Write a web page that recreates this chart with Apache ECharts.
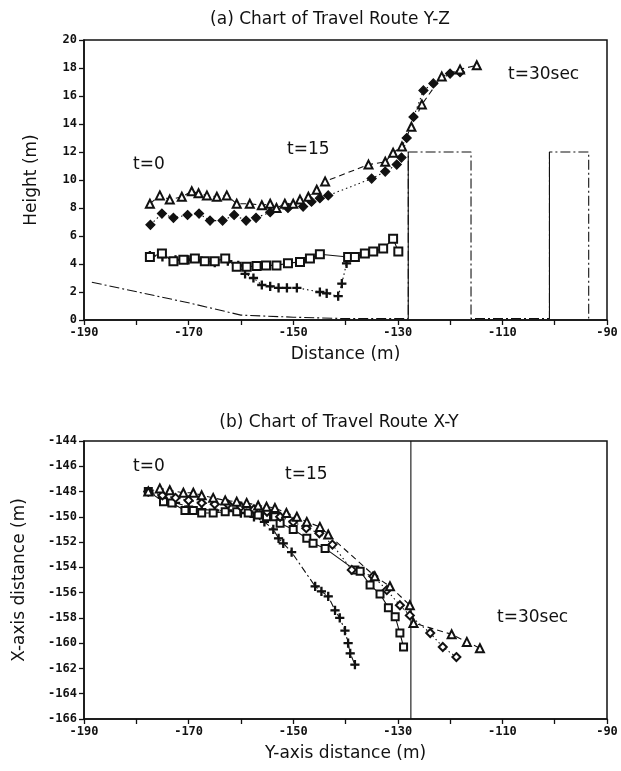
<!DOCTYPE html>
<html><head><meta charset="utf-8">
<script src="https://cdn.jsdelivr.net/npm/echarts@6/dist/echarts.min.js"></script>
<style>html,body{margin:0;padding:0;background:#fff}#c{width:621px;height:771px}</style>
</head><body><div id="c"></div>
<script>
// ---------- (a) Y-Z : [Y-axis distance, height] ----------
const triYZ = [[-177.4,8.3],[-175.5,8.9],[-173.6,8.6],[-171.3,8.8],[-169.4,9.2],[-168.1,9.05],[-166.5,8.9],[-164.6,8.8],[-162.7,8.9],[-160.8,8.3],[-158.3,8.3],[-156,8.2],[-154.4,8.3],[-153.2,8.0],[-151.6,8.3],[-150,8.3],[-148.7,8.6],[-147.1,8.8],[-145.5,9.3],[-143.9,9.9],[-135.6,11.1],[-132.4,11.3],[-130.9,11.95],[-129.2,12.4],[-127.4,13.8],[-125.4,15.4],[-121.6,17.4],[-118.1,17.9],[-114.9,18.2]];
const diaYZ = [[-177.3,6.8],[-175.1,7.6],[-172.9,7.3],[-170.2,7.5],[-168,7.6],[-165.9,7.1],[-163.5,7.1],[-161.3,7.5],[-159,7.1],[-157.1,7.3],[-154.4,7.7],[-151,8.0],[-148.1,8.1],[-146.5,8.45],[-144.9,8.7],[-143.3,8.9],[-135,10.1],[-132.4,10.6],[-130.2,11.1],[-129.3,11.6],[-128.3,13.0],[-127,14.5],[-125.1,16.4],[-123.2,16.9],[-120,17.6],[-118.1,17.7]];
const sqYZ = [[-177.4,4.5],[-175.1,4.75],[-172.9,4.2],[-171,4.3],[-168.8,4.4],[-166.9,4.2],[-165,4.2],[-163,4.4],[-160.8,3.8],[-158.9,3.8],[-157,3.85],[-155.2,3.9],[-153.2,3.9],[-151,4.05],[-148.7,4.15],[-146.8,4.4],[-144.9,4.7],[-139.5,4.5],[-138.2,4.5],[-136.3,4.75],[-134.7,4.9],[-132.8,5.1],[-130.9,5.8],[-129.9,4.9]];
const plusYZ = [[-177.4,4.6],[-175,4.5],[-172.5,4.3],[-170,4.3],[-167.5,4.2],[-165,4.1],[-162.5,4.2],[-160.5,3.9],[-159.2,3.3],[-157.6,3.0],[-156,2.5],[-154.4,2.4],[-152.8,2.3],[-151.2,2.3],[-149.3,2.3],[-144.9,2.0],[-143.6,1.9],[-141.4,1.7],[-140.7,2.6],[-139.8,4.05],[-139.5,4.5]];
const groundYZ = [[-188.5,2.7],[-169.7,1.2],[-160,0.35],[-150,0.2],[-140,0.1],[-128,0.1],[-128,12],[-116,12],[-116,0.1],[-101,0.1],[-101,12],[-93.5,12],[-93.5,0.1]];
const wallsYZ = [[-128,0.1],[-128,12],'-',[-101,0.1],[-101,12]];

// ---------- (b) X-Y : [Y-axis distance, X-axis distance] ----------
const triXY = [[-177.7,-148.0],[-175.5,-147.75],[-173.6,-147.9],[-171,-148.1],[-169.1,-148.1],[-167.5,-148.3],[-165.3,-148.5],[-163,-148.7],[-160.8,-148.8],[-158.9,-148.9],[-156.7,-149.1],[-155.1,-149.2],[-153.5,-149.3],[-151.3,-149.7],[-149.3,-150],[-147.4,-150.4],[-144.9,-150.8],[-143.3,-151.4],[-134.4,-154.7],[-131.5,-155.5],[-127.7,-157],[-127,-158.4],[-119.7,-159.3],[-116.8,-159.9],[-114.3,-160.4]];
const diaXY = [[-177.7,-148.0],[-175,-148.3],[-172.5,-148.5],[-170,-148.7],[-167.5,-148.9],[-165,-149.0],[-162.5,-149.0],[-160,-149.2],[-157.5,-149.4],[-155,-149.6],[-152.5,-150.0],[-150,-150.4],[-147.5,-150.9],[-145,-151.3],[-142.5,-152.2],[-138.8,-154.2],[-134.7,-154.7],[-132.1,-155.8],[-129.6,-157],[-127.7,-157.8],[-123.8,-159.2],[-121.4,-160.3],[-118.8,-161.1]];
const sqXY = [[-177.7,-148.0],[-174.8,-148.8],[-173.2,-148.9],[-170.7,-149.5],[-169.1,-149.5],[-167.5,-149.7],[-165.3,-149.7],[-163,-149.6],[-160.8,-149.6],[-158.6,-149.7],[-156.7,-149.85],[-155.1,-150.0],[-153.5,-150.0],[-152.5,-150.5],[-150,-151],[-147.4,-151.7],[-146.2,-152.1],[-143.9,-152.5],[-138.2,-154.2],[-137.2,-154.3],[-135.3,-155.4],[-133.4,-156.1],[-131.8,-157.2],[-130.5,-157.9],[-129.6,-159.2],[-128.9,-160.3]];
const plusXY = [[-177.7,-148.0],[-175,-148.5],[-172.5,-148.9],[-170,-149.2],[-167.5,-149.4],[-165,-149.5],[-162.5,-149.5],[-160,-149.7],[-157.5,-150.0],[-155.5,-150.4],[-153.8,-151.0],[-152.8,-151.7],[-151.9,-152.1],[-150.3,-152.8],[-145.8,-155.5],[-144.6,-155.9],[-143.3,-156.3],[-142,-157.4],[-141.1,-158],[-140.1,-159],[-139.5,-160],[-139.1,-160.8],[-138.2,-161.7]];
const wallXY = [[-127.5,-144],[-127.5,-166]];

const titles = ['(a) Chart of Travel Route Y-Z', '(b) Chart of Travel Route X-Y'];
const axisNames = { a: ['Distance (m)', 'Height (m)'], b: ['Y-axis distance (m)', 'X-axis distance (m)'] };
const notes = { a: ['t=0', 't=15', 't=30sec'], b: ['t=0', 't=15', 't=30sec'] };

const PLUS = 'path://M4.3,0H5.7V4.3H10V5.7H5.7V10H4.3V5.7H0V4.3H4.3Z';
const tickFont = { fontFamily: 'DejaVu Sans Mono', fontWeight: 'bold', fontSize: 12, color: '#111' };
const nameFont = { fontFamily: 'DejaVu Sans', fontSize: 17, color: '#111' };
const blk = '#111';

function xAx(gi, name) {
  return { gridIndex: gi, type: 'value', min: -190, max: -90, interval: 10,
    name: name, nameLocation: 'middle', nameGap: 26, nameTextStyle: nameFont,
    axisLine: { show: true, onZero: false, lineStyle: { color: blk, width: 1.5 } },
    axisTick: { show: true, length: 5, lineStyle: { color: blk, width: 1.3 } },
    axisLabel: Object.assign({ margin: 7, formatter: v => ((v + 190) % 20 === 0 ? String(v) : '') }, tickFont),
    splitLine: { show: false } };
}
function yAx(gi, name, mn, mx, gap) {
  return { gridIndex: gi, type: 'value', min: mn, max: mx, interval: 2,
    name: name, nameLocation: 'middle', nameGap: gap, nameTextStyle: nameFont,
    axisLine: { show: true, onZero: false, lineStyle: { color: blk, width: 1.5 } },
    axisTick: { show: true, length: 5, lineStyle: { color: blk, width: 1.3 } },
    axisLabel: Object.assign({ margin: 7 }, tickFont),
    splitLine: { show: false } };
}
function ser(gi, data, symbol, size, lineType) {
  return { type: 'line', xAxisIndex: gi, yAxisIndex: gi, data: data, symbol: symbol, symbolSize: size,
    showSymbol: true, showAllSymbol: true, animation: false, connectNulls: false,
    lineStyle: { color: blk, width: 1.1, type: lineType },
    itemStyle: { color: blk, borderColor: blk, borderWidth: 1.2 } };
}

const chart = echarts.init(document.getElementById('c'), null, { renderer: 'canvas' });
chart.setOption({
  backgroundColor: '#fff',
  animation: false,
  title: [
    { text: titles[0], left: 325, top: 6, textAlign: 'center', textStyle: { fontFamily: 'DejaVu Sans', fontSize: 17, fontWeight: 'normal', color: blk } },
    { text: titles[1], left: 334, top: 409, textAlign: 'center', textStyle: { fontFamily: 'DejaVu Sans', fontSize: 17, fontWeight: 'normal', color: blk } }
  ],
  grid: [
    { left: 84, right: 14, top: 40, height: 280, show: true, borderColor: blk, borderWidth: 1.5 },
    { left: 84, right: 14, top: 441, height: 278, show: true, borderColor: blk, borderWidth: 1.5 }
  ],
  xAxis: [xAx(0, axisNames.a[0]), xAx(1, axisNames.b[0])],
  yAxis: [yAx(0, axisNames.a[1], 0, 20, 44), yAx(1, axisNames.b[1], -166, -144, 56)],
  series: [
    ser(0, groundYZ, 'none', 0, [10, 3, 2, 3]),
    ser(0, wallsYZ, 'none', 0, 'solid'),
    ser(0, plusYZ, PLUS, 8, [1.5, 3]),
    ser(0, sqYZ, 'emptyRect', 8, 'solid'),
    ser(0, diaYZ, 'diamond', 9, [1.5, 3]),
    ser(0, triYZ, 'emptyTriangle', 8, [6, 4]),
    ser(1, wallXY, 'none', 0, 'solid'),
    ser(1, plusXY, PLUS, 8, [7, 3, 2, 3]),
    ser(1, sqXY, 'emptyRect', 7, 'solid'),
    ser(1, diaXY, 'emptyDiamond', 8, [1.5, 3]),
    ser(1, triXY, 'emptyTriangle', 8, [6, 4])
  ],
  graphic: [
    { type: 'text', left: 133, top: 156, style: { text: notes.a[0], font: '17px "DejaVu Sans"', fill: blk } },
    { type: 'text', left: 287, top: 141, style: { text: notes.a[1], font: '17px "DejaVu Sans"', fill: blk } },
    { type: 'text', left: 508, top: 66, style: { text: notes.a[2], font: '17px "DejaVu Sans"', fill: blk } },
    { type: 'text', left: 133, top: 458, style: { text: notes.b[0], font: '17px "DejaVu Sans"', fill: blk } },
    { type: 'text', left: 285, top: 466, style: { text: notes.b[1], font: '17px "DejaVu Sans"', fill: blk } },
    { type: 'text', left: 497, top: 609, style: { text: notes.b[2], font: '17px "DejaVu Sans"', fill: blk } }
  ]
});
</script>
</body></html>
